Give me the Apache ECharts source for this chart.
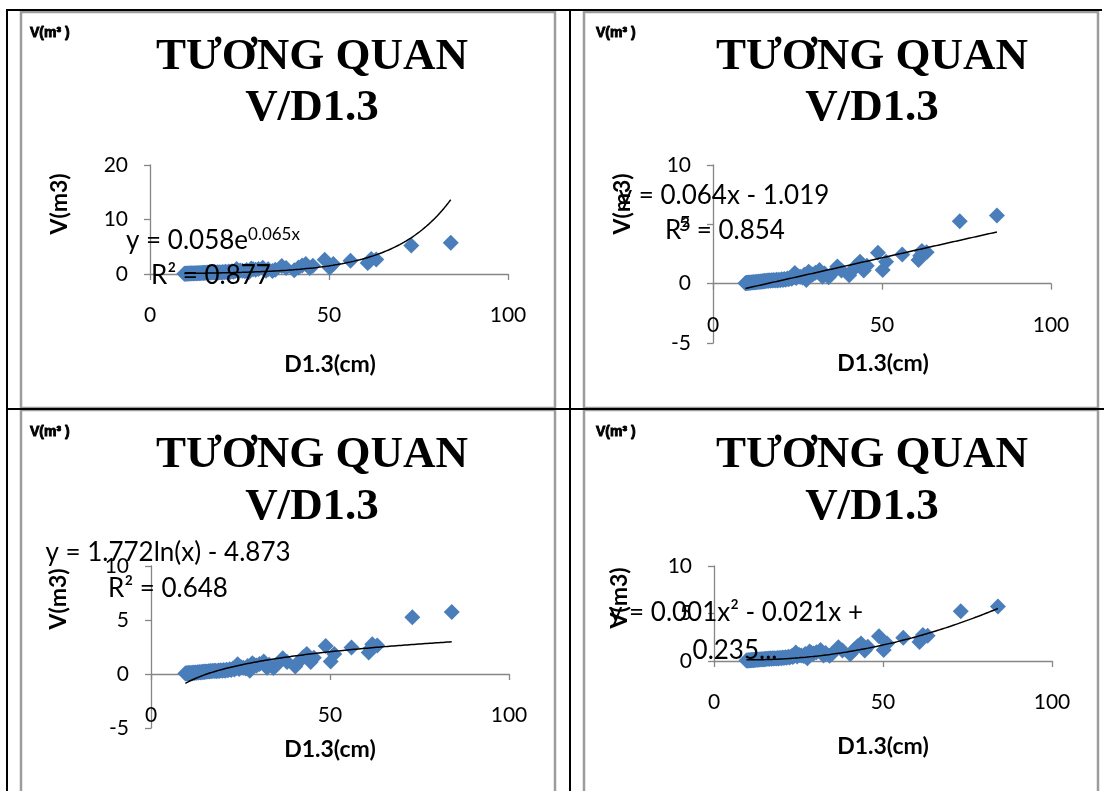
<!DOCTYPE html>
<html>
<head>
<meta charset="utf-8">
<script src="https://cdn.jsdelivr.net/npm/echarts@6/dist/echarts.min.js"></script>
<style>
  html, body { margin: 0; padding: 0; background: #fff; }
  #chart { width: 1104px; height: 791px; }
</style>
</head>
<body>
<div id="chart"></div>
<script>
// Diameter at breast height (cm) and stem volume (m3) of the sampled trees
const diameters = [
  9.6, 9.8, 10.0, 10.2, 10.4, 10.6, 10.8, 11.0, 11.2, 11.5, 11.7, 12.0, 12.2, 12.5, 12.8,
  13.0, 13.3, 13.6, 13.9, 14.2, 14.5, 14.8, 15.0, 15.3, 15.6, 16.0, 16.3, 16.6, 17.0, 17.3,
  17.7, 18.0, 18.4, 18.8, 19.1, 19.5, 19.9, 20.3, 20.7, 21.1, 21.5, 22.0, 22.4, 22.9, 23.3,
  23.8, 24.2, 24.6, 25.2, 25.8, 26.5, 27.0, 27.6, 28.3, 28.8, 29.5, 30.3, 31.5, 32.4, 33.0,
  34.2, 35.0, 36.8, 38.0, 40.3, 41.5, 42.5, 43.5, 44.6, 45.5, 48.8, 50.2, 51.2, 56.0, 60.8,
  61.3, 61.8, 63.2, 73.0, 84.0
];
const volumes = [
  0.04, 0.06, 0.05, 0.08, 0.06, 0.09, 0.07, 0.10, 0.08, 0.12, 0.09, 0.13, 0.10, 0.15, 0.12,
  0.16, 0.13, 0.18, 0.15, 0.20, 0.17, 0.22, 0.19, 0.24, 0.21, 0.26, 0.22, 0.28, 0.25, 0.29,
  0.27, 0.30, 0.26, 0.32, 0.27, 0.34, 0.29, 0.37, 0.31, 0.40, 0.34, 0.44, 0.38, 0.50, 0.42,
  0.55, 0.90, 0.47, 0.62, 0.58, 0.52, 0.75, 0.30, 1.00, 0.85, 0.78, 0.92, 1.15, 0.58, 0.85,
  0.55, 0.80, 1.45, 1.10, 0.70, 1.20, 1.55, 1.85, 1.10, 1.50, 2.60, 1.15, 1.85, 2.45, 2.00,
  2.35, 2.75, 2.65, 5.25, 5.75
];

// Fitted trend models (coefficients as printed on each panel)
const expCoef = [0.058, 0.065];          // y = a·e^(bx)
const linCoef = [0.064, -1.019];         // y = ax + b
const logCoef = [1.772, -4.873];         // y = a·ln(x) + b
const polyCoef = [0.001, -0.021, 0.235]; // y = ax² + bx + c

// Value-axis ranges per panel: [min, max, interval]
const xRange = [0, 100, 50];
const yRanges = [[0, 20, 10], [-5, 10, 5], [-5, 10, 5], [0, 10, 5]];

const titleLines = ['TƯƠNG QUAN', 'V/D1.3'];
const xTitle = 'D1.3(cm)';
const yTitle = 'V(m3)';
const cornerNote = 'V(m³ )';

const points = diameters.map((d, i) => [d, volumes[i]]);
const dMin = Math.min(...diameters);
const dMax = Math.max(...diameters);

const models = [
  x => expCoef[0] * Math.exp(expCoef[1] * x),
  x => linCoef[0] * x + linCoef[1],
  x => logCoef[0] * Math.log(x) + logCoef[1],
  x => polyCoef[0] * x * x + polyCoef[1] * x + polyCoef[2]
];
function trendPoints(f) {
  const out = [];
  const steps = 120;
  for (let i = 0; i <= steps; i++) {
    const x = dMin + (dMax - dMin) * i / steps;
    out.push([x, f(x)]);
  }
  return out;
}

// Plot-area boxes of the four charts
const grids = [
  { left: 150, top: 165, width: 358, height: 109 },
  { left: 713, top: 165, width: 338, height: 178 },
  { left: 151, top: 566, width: 358, height: 162 },
  { left: 714, top: 566, width: 338, height: 95 }
];

const axisColor = '#868686';
const sans = 'Lato, "Open Sans", sans-serif';

// The horizontal axis sits on V = 0, so lift it from the grid bottom by that distance
function zeroOffset(i) {
  const r = yRanges[i];
  return -((0 - r[0]) / (r[1] - r[0])) * grids[i].height;
}

const option = {
  backgroundColor: '#ffffff',
  animation: false,
  grid: grids.map(g => Object.assign({ outerBoundsMode: 'none', containLabel: false }, g)),
  xAxis: grids.map((g, i) => ({
    type: 'value', gridIndex: i, position: 'bottom', offset: zeroOffset(i),
    min: xRange[0], max: xRange[1], interval: xRange[2],
    axisLine: { onZero: false, lineStyle: { color: axisColor, width: 1.3 } },
    axisTick: { show: true, inside: false, length: 6, lineStyle: { color: axisColor, width: 1.3 } },
    axisLabel: { margin: 31, fontSize: 21, color: '#000', fontFamily: sans },
    splitLine: { show: false }
  })),
  yAxis: grids.map((g, i) => ({
    type: 'value', gridIndex: i,
    min: yRanges[i][0], max: yRanges[i][1], interval: yRanges[i][2],
    axisLine: { show: true, onZero: false, lineStyle: { color: axisColor, width: 1.3 } },
    axisTick: { show: true, inside: false, length: 6, lineStyle: { color: axisColor, width: 1.3 } },
    axisLabel: { margin: 22, fontSize: 21, color: '#000', fontFamily: sans },
    splitLine: { show: false }
  })),
  series: []
};

grids.forEach((g, i) => {
  option.series.push({
    type: 'scatter', xAxisIndex: i, yAxisIndex: i,
    data: points, symbol: 'diamond', symbolSize: 16,
    itemStyle: { color: '#4a7ebb', opacity: 1 }, z: 2
  });
  option.series.push({
    type: 'line', xAxisIndex: i, yAxisIndex: i,
    data: trendPoints(models[i]), showSymbol: false, smooth: false,
    lineStyle: { color: '#000', width: 1.5 }, z: 3, silent: true
  });
});

// Table rules and chart frames
const graphics = [
  { type: 'line', shape: { x1: 6, y1: 10, x2: 1102, y2: 10 }, style: { stroke: '#000', lineWidth: 2 } },
  { type: 'line', shape: { x1: 7, y1: 9, x2: 7, y2: 791 }, style: { stroke: '#000', lineWidth: 2 } },
  { type: 'line', shape: { x1: 570, y1: 9, x2: 570, y2: 791 }, style: { stroke: '#000', lineWidth: 2 } },
  { type: 'line', shape: { x1: 6, y1: 409, x2: 1104, y2: 409 }, style: { stroke: '#000', lineWidth: 2 } }
];
const frames = [
  { x: 21, y: 12, width: 534, height: 396 },
  { x: 584, y: 12, width: 514, height: 396 },
  { x: 21, y: 410, width: 534, height: 400 },
  { x: 584, y: 410, width: 514, height: 400 }
];
frames.forEach(f => graphics.push({
  type: 'rect', shape: f, z: -1,
  style: { fill: '#fff', stroke: '#9c9c9c', lineWidth: 2.5 }
}));

function addText(x, y, text, font, extra) {
  graphics.push(Object.assign({
    type: 'text', x: x, y: y, z: 20,
    style: Object.assign({ text: text, font: font, fill: '#000', textAlign: 'center', textVerticalAlign: 'middle' }, extra && extra.style || {})
  }, extra && extra.el || {}));
}

// Per-panel placement of titles, notes and axis names
const layout = [
  { note: [30, 33], title: [312, 57, 108], xName: [330, 365], yName: [60, 204] },
  { note: [596, 33], title: [872, 57, 108], xName: [883, 364], yName: [623, 204] },
  { note: [30, 432], title: [312, 455, 507], xName: [330, 750], yName: [59, 599] },
  { note: [596, 432], title: [872, 455, 507], xName: [883, 747], yName: [620, 598] }
];
const titleFont = 'bold 45px "Liberation Serif", "Times New Roman", serif';
layout.forEach(p => {
  addText(p.note[0], p.note[1], cornerNote, 'bold 14px "Liberation Sans", sans-serif',
    { style: { textAlign: 'left', stroke: '#000', lineWidth: 0.9 } });
  addText(p.title[0], p.title[1], titleLines[0], titleFont);
  addText(p.title[0], p.title[2], titleLines[1], titleFont);
  addText(p.xName[0], p.xName[1], xTitle, 'bold 23px ' + sans);
  addText(p.yName[0], p.yName[1], yTitle, 'bold 23px ' + sans, { el: { rotation: Math.PI / 2 } });
});

// Trendline equations
const eqFont = '26px ' + sans;
graphics.push({
  type: 'text', x: 213, y: 241, z: 20,
  style: {
    text: '{m|y = 0.058e}{s|0.065x}',
    textAlign: 'center', textVerticalAlign: 'middle',
    rich: {
      m: { fontSize: 26, fontFamily: 'Lato', fill: '#000', lineHeight: 30 },
      s: { fontSize: 17, fontFamily: 'Lato', fill: '#000', verticalAlign: 'top', lineHeight: 18 }
    }
  }
});
addText(211, 276, 'R² = 0.877', eqFont);
addText(724, 196, 'y = 0.064x - 1.019', eqFont);
addText(725, 231, 'R² = 0.854', eqFont);
addText(168, 553, 'y = 1.772ln(x) - 4.873', eqFont);
addText(168, 589, 'R² = 0.648', eqFont);
addText(736, 613, 'y = 0.001x² - 0.021x +', eqFont);
addText(735, 651, '0.235...', eqFont);

option.graphic = { elements: graphics };

const chart = echarts.init(document.getElementById('chart'), null, { renderer: 'canvas' });
chart.setOption(option);
</script>
</body>
</html>
